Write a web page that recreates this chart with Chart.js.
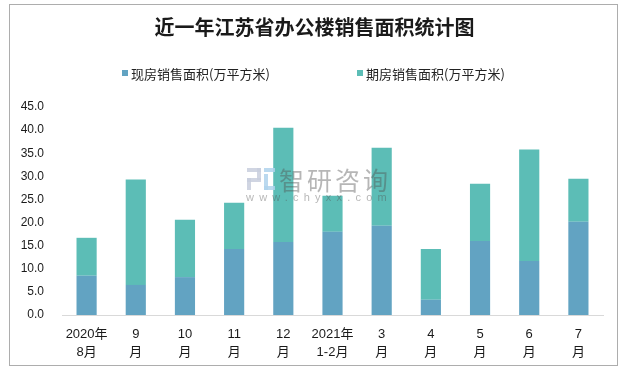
<!DOCTYPE html>
<html>
<head>
<meta charset="utf-8">
<script src="https://cdn.jsdelivr.net/npm/chart.js@4/dist/chart.umd.min.js"></script>
<style>
html,body{margin:0;padding:0;background:#fff;}
#wrap{position:relative;width:632px;height:370px;}
</style>
</head>
<body>
<div id="wrap"><canvas id="c" width="632" height="370"></canvas></div>
<script>
const titleText = '近一年江苏省办公楼销售面积统计图';
const categories = [['2020年','8月'],['9','月'],['10','月'],['11','月'],['12','月'],['2021年','1-2月'],['3','月'],['4','月'],['5','月'],['6','月'],['7','月']];
const seriesNames = ['现房销售面积(万平方米)', '期房销售面积(万平方米)'];
const spotArea = [8.5, 6.5, 8.2, 14.3, 15.8, 18.0, 19.3, 3.3, 16.0, 11.7, 20.2];
const futureArea = [8.2, 22.8, 12.4, 10.0, 24.7, 7.8, 16.9, 11.0, 12.4, 24.1, 9.3];
const yTicks = [0, 5, 10, 15, 20, 25, 30, 35, 40, 45];

const colors = ['#62A3C2', '#5CBDB6'];
const CJK = "'Noto Sans CJK SC', sans-serif";
const NUM = "'Liberation Sans', 'Noto Sans CJK SC', sans-serif";

const framePlugin = {
  id: 'frame',
  beforeDraw(chart) {
    const ctx = chart.ctx;
    ctx.save();
    ctx.fillStyle = '#fff';
    ctx.fillRect(0, 0, chart.width, chart.height);
    ctx.strokeStyle = '#ADADAD';
    ctx.lineWidth = 1;
    ctx.strokeRect(9.5, 4.5, 608, 361);
    ctx.restore();
  },
  afterDraw(chart) {
    const ctx = chart.ctx;
    ctx.save();
    const boxX = [122, 357];
    chart.data.datasets.forEach((ds, i) => {
      ctx.fillStyle = ds.backgroundColor;
      ctx.fillRect(boxX[i], 70, 6, 6);
      ctx.fillStyle = '#222';
      ctx.font = '13px ' + CJK;
      ctx.textBaseline = 'middle';
      ctx.textAlign = 'left';
      ctx.fillText(ds.label, boxX[i] + 9, 74);
    });
    ctx.restore();
  },
  afterDatasetsDraw(chart) {
    const ctx = chart.ctx;
    ctx.save();
    ctx.fillStyle = 'rgba(200,206,221,0.85)';
    ctx.fillRect(247, 168, 14, 4);
    ctx.fillRect(257, 168, 4, 12);
    ctx.fillRect(247, 178, 14, 4);
    ctx.fillRect(247, 178, 4, 12);
    ctx.fillStyle = 'rgba(175,210,236,0.85)';
    ctx.fillRect(264, 168, 11, 4);
    ctx.fillRect(264, 174, 4, 16);
    ctx.fillRect(264, 186, 11, 4);
    ctx.fillStyle = 'rgba(80,80,80,0.42)';
    ctx.font = '25px ' + CJK;
    ctx.textBaseline = 'middle';
    ctx.textAlign = 'left';
    try { ctx.letterSpacing = '3px'; } catch(e) {}
    ctx.fillText('智研咨询', 279, 180);
    ctx.font = '11px ' + NUM;
    try { ctx.letterSpacing = '5.2px'; } catch(e) {}
    ctx.fillText('www.chyxx.com', 246, 198);
    try { ctx.letterSpacing = '0px'; } catch(e) {}
    ctx.restore();
  }
};

new Chart(document.getElementById('c'), {
  type: 'bar',
  data: {
    labels: categories,
    datasets: [
      { label: seriesNames[0], data: spotArea, backgroundColor: colors[0], borderWidth: 0 },
      { label: seriesNames[1], data: futureArea, backgroundColor: colors[1], borderWidth: 0 }
    ]
  },
  options: {
    responsive: false,
    animation: false,
    devicePixelRatio: 1,
    layout: { padding: { left: 13, right: 16, top: 0, bottom: 0 } },
    datasets: { bar: { categoryPercentage: 1, barPercentage: 0.41 } },
    plugins: {
      legend: { display: false },
      tooltip: { enabled: false },
      title: {
        display: true,
        text: titleText,
        color: '#1a1a1a',
        font: { family: "'Noto Sans CJK SC', serif", size: 20, weight: 'bold', lineHeight: 1.2 },
        padding: { top: 15.5, bottom: 67.5 }
      }
    },
    scales: {
      x: {
        stacked: true,
        grid: { display: false, drawTicks: false },
        border: { display: true, color: '#D9D9D9', width: 1 },
        ticks: {
          color: '#1a1a1a',
          padding: 10,
          maxRotation: 0,
          autoSkip: false,
          font: { family: NUM, size: 13, lineHeight: 1.4 }
        },
        afterFit(scale) { scale.height = 55; }
      },
      y: {
        stacked: true,
        min: 0,
        max: 45,
        grid: { display: false, drawTicks: false },
        border: { display: false },
        afterBuildTicks(scale) { scale.ticks = yTicks.map(v => ({ value: v })); },
        ticks: {
          color: '#1a1a1a',
          padding: 18,
          font: { family: NUM, size: 12 },
          callback: (v) => Number(v).toFixed(1)
        },
        afterFit(scale) { scale.width = 49; }
      },
      spacer: {
        type: 'linear',
        position: 'right',
        display: true,
        grid: { display: false, drawTicks: false },
        border: { display: false },
        ticks: { display: false },
        afterFit(scale) { scale.width = 13; }
      }
    }
  },
  plugins: [framePlugin]
});
</script>
</body>
</html>
